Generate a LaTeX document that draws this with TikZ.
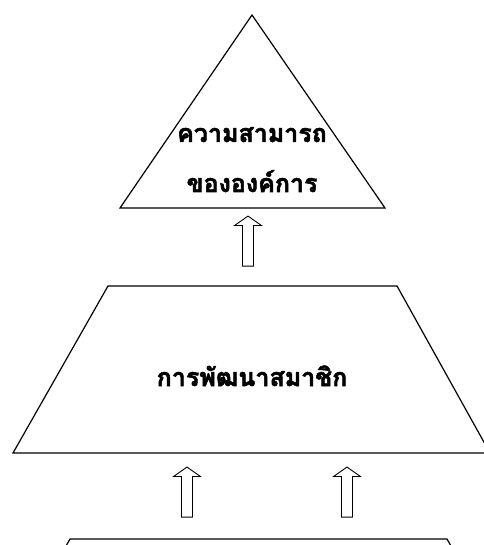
\documentclass[tikz,border=0pt]{standalone}
\usepackage{fontspec}
\newfontfamily\thaifont[Script=Thai, FakeBold=2]{Loma}
\usetikzlibrary{shapes.arrows, positioning, calc}

\begin{document}
\begin{tikzpicture}[
    x=1pt, y=-1pt,
    % --- Global styles ---
    every node/.style={font=\thaifont\bfseries\fontsize{25}{30}\selectfont},
    % --- Levels of the pyramid ---
    level/.style={draw, line width=1.2pt, line join=miter},
    level text/.style={anchor=base, inner sep=0pt},
    % --- Hollow block arrows ---
    up arrow/.style={
      draw, line width=0.9pt, single arrow, shape border rotate=90,
      minimum height=50pt, minimum width=27pt,
      single arrow head extend=8pt, single arrow tip angle=110,
      inner sep=5pt,
    },
  ]
  \useasboundingbox (0,0) rectangle (483,545);

  %% ---- Levels (top to bottom) ----

  % Capability (triangle)
  \coordinate (cap top) at (252,15);
  \coordinate (cap left) at (120,208);
  \coordinate (cap right) at (385,208);
  \draw[level] (cap top) -- (cap right) -- (cap left) -- cycle;
  \node[level text] (cap1) at (252,142) {ความสามารถ};
  \node[level text] (cap2) at (252,192) {ขององค์การ};

  % Member development (trapezium)
  \coordinate (dev nw) at (108,286);
  \coordinate (dev ne) at (397,286);
  \coordinate (dev se) at (490,453);
  \coordinate (dev sw) at (13,453);
  \draw[level] (dev nw) -- (dev ne) -- (dev se) -- (dev sw) -- cycle;
  \node[level text] (dev) at (252,386) {การพัฒนาสมาชิก};

  % Lower level (cut off at the page edge)
  \coordinate (low nw) at (70,539);
  \coordinate (low ne) at (447,539);
  \draw[level] ($(low nw)+(-8,14)$) -- (low nw) -- (low ne) -- ($(low ne)+(8,14)$);

  %% ---- Arrows ----

  \node[up arrow] (up top) at (248,243) {};
  \node[up arrow] (up left) at (187,494) {};
  \node[up arrow] (up right) at (347,494) {};

\end{tikzpicture}
\end{document}
